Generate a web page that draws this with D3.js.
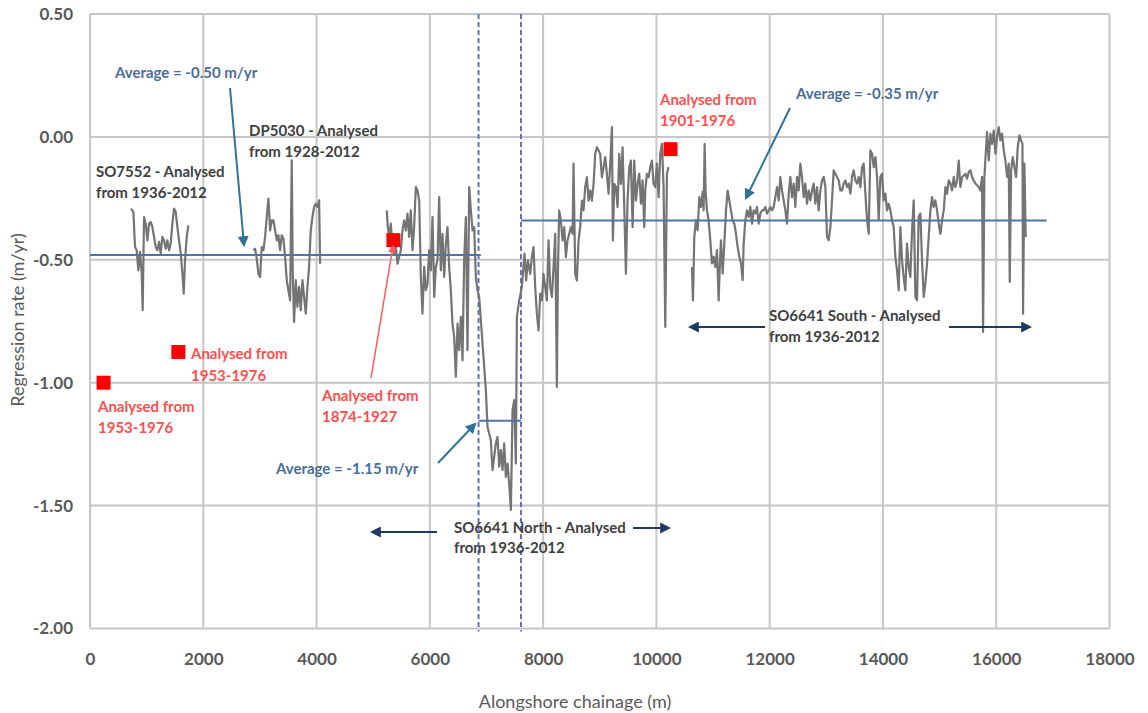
<!DOCTYPE html>
<html><head><meta charset="utf-8">
<script src="https://cdn.jsdelivr.net/npm/d3@7"></script>
<style>
html,body{margin:0;padding:0;background:#fff;}
svg{display:block;font-family:Lato,"Open Sans",sans-serif;}
</style></head>
<body>
<svg id="chart" width="1148" height="713"></svg>
<script>
// ---------- DATA ----------
const xTicks = [0,2000,4000,6000,8000,10000,12000,14000,16000,18000];
const yTicks = [0.5,0,-0.5,-1,-1.5,-2];
const yTickLabels = ["0.50","0.00","-0.50","-1.00","-1.50","-2.00"];

const so7552Chainage = [724,766,795,824,854,883,913,930,954,983,1013,1042,1072,1101,1131,1160,1189,1219,1248,1278,1307,1337,1366,1396,1425,1454,1484,1513,1543,1572,1602,1631,1655,1678,1708,1737];
const so7552Rate = [-0.292,-0.305,-0.448,-0.461,-0.543,-0.468,-0.556,-0.705,-0.326,-0.353,-0.421,-0.353,-0.346,-0.367,-0.407,-0.448,-0.461,-0.427,-0.475,-0.407,-0.421,-0.455,-0.421,-0.461,-0.434,-0.353,-0.292,-0.305,-0.367,-0.421,-0.475,-0.556,-0.638,-0.502,-0.407,-0.360];

const dp5030Chainage = [2885,2915,2944,2974,3003,3032,3062,3091,3121,3150,3180,3209,3238,3268,3297,3327,3356,3386,3415,3445,3474,3503,3533,3562,3580,3603,3633,3662,3692,3721,3751,3780,3810,3839,3868,3898,3927,3957,3986,4016,4045,4063];
const dp5030Rate = [-0.461,-0.455,-0.495,-0.556,-0.570,-0.448,-0.461,-0.407,-0.326,-0.251,-0.380,-0.339,-0.339,-0.380,-0.421,-0.400,-0.461,-0.400,-0.414,-0.489,-0.583,-0.624,-0.665,-0.095,-0.556,-0.753,-0.583,-0.692,-0.610,-0.705,-0.583,-0.651,-0.719,-0.610,-0.529,-0.380,-0.326,-0.285,-0.272,-0.285,-0.258,-0.516];

const northChainage = [5240,5258,5282,5311,5341,5370,5399,5429,5458,5488,5517,5547,5576,5605,5635,5664,5694,5723,5753,5782,5812,5841,5870,5900,5929,5959,5988,6018,6047,6077,6106,6135,6165,6194,6224,6253,6283,6312,6341,6371,6400,6430,6459,6489,6518,6548,6577,6606,6636,6665,6695,6724,6754,6783,6812,6842,6871,6901,6930,6960,6989,7019,7048,7077,7107,7136,7166,7195,7225,7254,7283,7313,7342,7372,7401,7431,7460,7490,7519,7537,
7578,7625,7672,7701,7731,7772,7801,7831,7860,7890,7919,7949,7978,8007,8037,8066,8096,8125,8155,8184,8214,8243,8261,8284,8314,8343,8373,8402,8431,8461,8490,8520,8537,8567,8596,8626,8655,8685,8714,8743,8773,8802,8832,8861,8891,8920,8950,8979,9008,9038,9067,9097,9126,9156,9185,9215,9232,9256,9285,9315,9344,9374,9403,9433,9462,9491,9521,9550,9580,9609,9639,9668,9697,9727,9756,9786,9803,9833,9862,9892,9921,9950,9980,10009,10039,10068,10098,10127,10157,10186,10215];
const northRate = [-0.299,-0.367,-0.407,-0.353,-0.448,-0.475,-0.448,-0.516,-0.489,-0.461,-0.380,-0.340,-0.380,-0.312,-0.407,-0.299,-0.461,-0.367,-0.204,-0.218,-0.258,-0.570,-0.719,-0.529,-0.624,-0.597,-0.461,-0.543,-0.326,-0.651,-0.529,-0.502,-0.245,-0.543,-0.394,-0.570,-0.434,-0.367,-0.529,-0.624,-0.760,-0.814,-0.976,-0.760,-0.868,-0.732,-0.909,-0.502,-0.326,-0.868,-0.204,-0.299,-0.380,-0.367,-0.570,-0.624,-0.651,-0.746,-0.841,-0.936,-1.031,-1.180,-1.207,-1.234,-1.356,-1.302,-1.247,-1.220,-1.342,-1.274,-1.356,-1.247,-1.383,-1.329,-1.410,-1.518,-1.112,-1.071,-1.329,-0.732,
-0.665,-0.611,-0.475,-0.584,-0.502,-0.557,-0.489,-0.448,-0.611,-0.719,-0.787,-0.638,-0.665,-0.557,-0.611,-0.665,-0.421,-0.611,-0.651,-0.529,-0.394,-1.017,-0.557,-0.299,-0.340,-0.421,-0.367,-0.489,-0.421,-0.394,-0.367,-0.394,-0.109,-0.557,-0.584,-0.421,-0.367,-0.259,-0.299,-0.204,-0.164,-0.259,-0.218,-0.259,-0.191,-0.069,-0.042,-0.055,-0.069,-0.164,-0.123,-0.082,-0.150,-0.231,-0.109,0.040,-0.421,-0.191,-0.204,-0.286,-0.069,-0.191,-0.042,-0.286,-0.557,-0.259,-0.123,-0.096,-0.367,-0.096,-0.259,-0.191,-0.150,-0.272,-0.177,-0.367,-0.218,-0.150,-0.164,-0.123,-0.096,-0.191,-0.204,-0.109,-0.245,-0.069,-0.028,-0.204,-0.773,-0.150,-0.123];

const southChainage = [10628,10646,10669,10699,10728,10758,10787,10817,10834,10852,10869,10893,10922,10952,10981,11011,11040,11070,11099,11117,11140,11170,11199,11229,11258,11288,11317,11346,11376,11405,11435,11464,11494,11523,11541,11570,11600,11629,11659,11688,11717,11747,11776,11806,11835,11865,11894,11923,11953,11982,12012,12041,12071,12100,12130,12159,12188,12218,12247,12277,12306,12336,12365,12394,12424,12453,12483,12512,12542,12571,12601,12630,12659,12689,12718,12748,12777,12807,12836,12865,12895,12924,12954,12983,13013,13042,13072,13101,13130,13160,13189,13219,13248,13278,13307,13337,13366,13395,13425,13454,13484,13513,13543,13572,13602,13631,13660,13690,13719,13749,13778,13808,13837,13867,13896,13925,
13954,13984,14013,14043,14072,14101,14131,14160,14190,14219,14249,14278,14308,14337,14366,14396,14425,14455,14484,14514,14543,14573,14602,14631,14661,14690,14720,14749,14779,14808,14838,14867,14896,14926,14955,14985,15014,15044,15073,15103,15132,15161,15191,15220,15250,15279,15309,15338,15367,15397,15426,15456,15485,15515,15544,15574,15603,15632,15662,15691,15721,15750,15768,15791,15815,15838,15868,15897,15927,15956,15986,16015,16045,16074,16103,16133,16162,16192,16221,16239,16263,16292,16321,16351,16380,16410,16439,16463,16474,16498,16521];
const southRate = [-0.529,-0.665,-0.407,-0.339,-0.380,-0.245,-0.285,-0.224,-0.299,-0.028,-0.218,-0.299,-0.339,-0.421,-0.515,-0.488,-0.529,-0.461,-0.665,-0.543,-0.421,-0.556,-0.434,-0.299,-0.218,-0.258,-0.299,-0.339,-0.353,-0.394,-0.448,-0.488,-0.515,-0.583,-0.434,-0.339,-0.299,-0.326,-0.285,-0.353,-0.299,-0.312,-0.285,-0.353,-0.312,-0.299,-0.299,-0.285,-0.312,-0.299,-0.285,-0.299,-0.285,-0.245,-0.204,-0.258,-0.163,-0.218,-0.258,-0.299,-0.353,-0.231,-0.163,-0.245,-0.190,-0.285,-0.163,-0.218,-0.109,-0.163,-0.245,-0.190,-0.272,-0.218,-0.258,-0.218,-0.190,-0.272,-0.204,-0.299,-0.218,-0.177,-0.163,-0.204,-0.407,-0.421,-0.367,-0.258,-0.136,-0.150,-0.163,-0.177,-0.218,-0.218,-0.190,-0.177,-0.204,-0.190,-0.231,-0.163,-0.136,-0.177,-0.190,-0.163,-0.204,-0.123,-0.109,-0.231,-0.339,-0.394,-0.055,-0.068,-0.123,-0.082,-0.163,-0.339,
-0.163,-0.150,-0.258,-0.231,-0.299,-0.272,-0.299,-0.339,-0.367,-0.488,-0.543,-0.624,-0.367,-0.502,-0.570,-0.624,-0.434,-0.529,-0.570,-0.380,-0.258,-0.651,-0.665,-0.326,-0.312,-0.502,-0.651,-0.597,-0.515,-0.407,-0.299,-0.245,-0.285,-0.258,-0.299,-0.353,-0.394,-0.339,-0.299,-0.204,-0.231,-0.177,-0.190,-0.218,-0.163,-0.204,-0.177,-0.096,-0.204,-0.163,-0.157,-0.150,-0.170,-0.143,-0.136,-0.163,-0.177,-0.190,-0.197,-0.204,-0.218,-0.163,-0.793,-0.163,-0.068,0.020,-0.096,0.013,-0.028,0.026,-0.068,0.000,0.040,-0.014,0.013,-0.055,-0.096,-0.163,-0.109,-0.590,-0.136,-0.082,-0.123,-0.163,-0.041,0.006,-0.014,-0.028,-0.719,-0.109,-0.407];

// early-survey single estimates (red squares)
const sampleChainage = [240,1560,5357,10250];
const sampleRate = [-1.00,-0.875,-0.42,-0.05];

// average lines
const avgStart = [0,6860,7610];
const avgEnd = [6900,7610,16890];
const avgRate = [-0.48,-1.155,-0.34];

// section boundaries
const boundaryChainage = [6860,7610];

// ---------- CHART ----------
const svg = d3.select("#chart");
const x = d3.scaleLinear().domain([0,18000]).range([90,1109.5]);
const y = d3.scaleLinear().domain([-2,0.5]).range([628.5,14]);

const gridColor = "#c6c6c6";
const tickColor = "#595959";

// gridlines
svg.append("g").selectAll("line").data(xTicks).join("line")
  .attr("x1",d=>x(d)).attr("x2",d=>x(d)).attr("y1",y(0.5)).attr("y2",y(-2))
  .attr("stroke",gridColor).attr("stroke-width",2);
svg.append("g").selectAll("line").data(yTicks).join("line")
  .attr("x1",x(0)).attr("x2",x(18000)).attr("y1",d=>y(d)).attr("y2",d=>y(d))
  .attr("stroke",gridColor).attr("stroke-width",2);

// axes (labels only)
const xAxis = d3.axisBottom(x).tickValues(xTicks).tickSize(0).tickPadding(0).tickFormat(d3.format("d"));
const gx = svg.append("g").attr("transform",`translate(0,${y(-2)})`).call(xAxis);
gx.select(".domain").remove();
gx.selectAll("text").attr("dy",null).attr("y",36).attr("fill",tickColor)
  .style("font-size","17px").style("font-family","Lato, sans-serif").style("font-weight","bold");

const yAxis = d3.axisLeft(y).tickValues(yTicks).tickSize(0).tickPadding(0)
  .tickFormat((d,i)=>yTickLabels[i]);
const gy = svg.append("g").attr("transform",`translate(${x(0)},0)`).call(yAxis);
gy.select(".domain").remove();
gy.selectAll("text").attr("x",-17).attr("fill",tickColor)
  .style("font-size","17px").style("font-family","Lato, sans-serif").style("font-weight","bold");

// axis titles
svg.append("text").attr("x",575).attr("y",708).attr("text-anchor","middle")
  .attr("fill",tickColor).style("font-size","18px").text("Alongshore chainage (m)");
svg.append("text").attr("transform","translate(24,320) rotate(-90)").attr("text-anchor","middle")
  .attr("fill",tickColor).style("font-size","18px").text("Regression rate (m/yr)");

// section boundary dashed lines
svg.append("g").selectAll("line").data(boundaryChainage).join("line")
  .attr("x1",d=>x(d)).attr("x2",d=>x(d)).attr("y1",y(0.5)).attr("y2",y(-2)+3)
  .attr("stroke","#6270c0").attr("stroke-width",2).attr("stroke-dasharray","5,3");

// data line segments
const segments = [
  [so7552Chainage, so7552Rate],
  [dp5030Chainage, dp5030Rate],
  [northChainage, northRate],
  [southChainage, southRate]
];
const line = d3.line().x(d=>x(d[0])).y(d=>y(d[1]));
svg.append("g").selectAll("path").data(segments.map(s=>d3.zip(s[0],s[1]))).join("path")
  .attr("d",line).attr("fill","none").attr("stroke","#747474").attr("stroke-width",2.2)
  .attr("stroke-linejoin","round");

// averages
svg.append("g").selectAll("line").data(avgRate).join("line")
  .attr("x1",(d,i)=>x(avgStart[i])).attr("x2",(d,i)=>x(avgEnd[i]))
  .attr("y1",d=>y(d)).attr("y2",d=>y(d))
  .attr("stroke","#4f76a0").attr("stroke-width",2);

// markers
const defs = svg.append("defs");
function marker(id,color,size){
  defs.append("marker").attr("id",id).attr("viewBox","0 0 10 10").attr("refX",8).attr("refY",5)
    .attr("markerWidth",size).attr("markerHeight",size).attr("orient","auto-start-reverse")
    .attr("markerUnits","userSpaceOnUse")
    .append("path").attr("d","M0,0 L10,5 L0,10 z").attr("fill",color);
}
marker("mBlue","#2f7399",11);
marker("mNavy","#1f3a60",11);
marker("mRed","#ff5a5a",8);

// red squares
svg.append("g").selectAll("rect").data(sampleRate).join("rect")
  .attr("x",(d,i)=>x(sampleChainage[i])-7).attr("y",d=>y(d)-7)
  .attr("width",14).attr("height",14).attr("fill","#ff0000");

// annotation arrows
const arrows = [
  {x1:230,y1:88,x2:244,y2:245,m:"mBlue",c:"#2f7399"},
  {x1:790,y1:108,x2:746,y2:198,m:"mBlue",c:"#2f7399"},
  {x1:438,y1:463,x2:475,y2:424,m:"mBlue",c:"#2f7399"},
  {x1:371,y1:378,x2:393,y2:246,m:"mRed",c:"#ff5a5a"},
  {x1:437,y1:532,x2:372,y2:532,m:"mNavy",c:"#1f3a60"},
  {x1:633,y1:528,x2:669,y2:528,m:"mNavy",c:"#1f3a60"},
  {x1:765,y1:327,x2:690,y2:327,m:"mNavy",c:"#1f3a60"},
  {x1:949,y1:327,x2:1030,y2:327,m:"mNavy",c:"#1f3a60"}
];
svg.append("g").selectAll("line").data(arrows).join("line")
  .attr("x1",d=>d.x1).attr("y1",d=>d.y1).attr("x2",d=>d.x2).attr("y2",d=>d.y2)
  .attr("stroke",d=>d.c).attr("stroke-width",d=>d.m==="mRed"?1.5:2)
  .attr("marker-end",d=>`url(#${d.m})`);

// annotation texts
const blueTxt = "#4a6d98", redTxt = "#ff4f4f", grayTxt = "#404040";
const notes = [
  {x:115,y:78,t:"Average = -0.50 m/yr",c:blueTxt},
  {x:249,y:136,t:"DP5030 - Analysed",c:grayTxt},
  {x:249,y:157,t:"from 1928-2012",c:grayTxt},
  {x:96,y:177,t:"SO7552 - Analysed",c:grayTxt},
  {x:96,y:198,t:"from 1936-2012",c:grayTxt},
  {x:191,y:359,t:"Analysed from",c:redTxt},
  {x:191,y:381,t:"1953-1976",c:redTxt},
  {x:98,y:412,t:"Analysed from",c:redTxt},
  {x:98,y:433,t:"1953-1976",c:redTxt},
  {x:322,y:401,t:"Analysed from",c:redTxt},
  {x:322,y:422,t:"1874-1927",c:redTxt},
  {x:276,y:474,t:"Average = -1.15 m/yr",c:blueTxt},
  {x:454,y:533,t:"SO6641 North - Analysed",c:grayTxt},
  {x:454,y:553,t:"from 1936-2012",c:grayTxt},
  {x:660,y:105,t:"Analysed from",c:redTxt},
  {x:660,y:126,t:"1901-1976",c:redTxt},
  {x:796,y:99,t:"Average = -0.35 m/yr",c:blueTxt},
  {x:769,y:321,t:"SO6641 South - Analysed",c:grayTxt},
  {x:769,y:342,t:"from 1936-2012",c:grayTxt}
];
svg.append("g").selectAll("text").data(notes).join("text")
  .attr("x",d=>d.x).attr("y",d=>d.y).attr("fill",d=>d.c)
  .style("font-size","15px").style("font-weight","bold").text(d=>d.t);
</script>
</body></html>
